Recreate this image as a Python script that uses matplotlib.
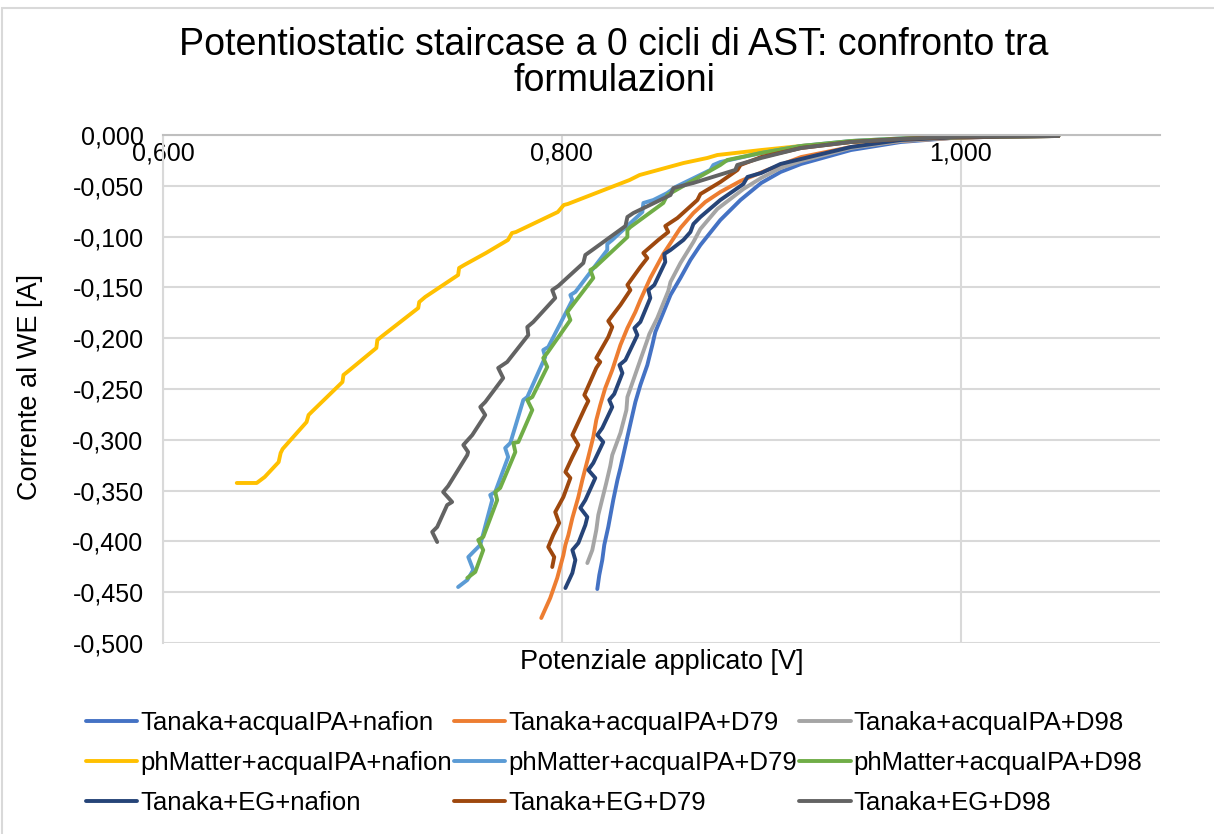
import matplotlib
matplotlib.use("Agg")
import matplotlib.pyplot as plt
from matplotlib.patches import Rectangle
from matplotlib.ticker import FuncFormatter, MultipleLocator

plt.rcParams["font.family"] = ["Liberation Sans", "DejaVu Sans"]

# series data: potential [V] and current [A]
tanaka_ipa_nafion_x = [0.8178, 0.8188, 0.8203, 0.8213, 0.8233, 0.8258, 0.8279, 0.8294, 0.8329, 0.8354,
                       0.8369, 0.8394, 0.8429, 0.8454, 0.8469, 0.8504, 0.8545, 0.8595, 0.8645, 0.8695,
                       0.8795, 0.8896, 0.900, 0.9097, 0.920, 0.945, 0.970, 0.995, 1.020, 1.049]
tanaka_ipa_nafion_y = [-0.4469, -0.4331, -0.4183, -0.4035, -0.3858, -0.3593, -0.3396, -0.3278, -0.2972, -0.2756,
                       -0.2628, -0.2461, -0.2264, -0.2067, -0.1939, -0.1772, -0.1575, -0.1407, -0.123, -0.1083,
                       -0.0837, -0.064, -0.0472, -0.0364, -0.0285, -0.0148, -0.0069, -0.003, -0.0015, -0.001]

tanaka_ipa_d79_x = [0.7897, 0.7942, 0.7977, 0.8008, 0.8018, 0.8033, 0.8053, 0.8083, 0.8103, 0.8133,
                    0.8158, 0.8173, 0.8193, 0.8218, 0.8253, 0.8294, 0.8329, 0.8369, 0.8394, 0.8444,
                    0.8509, 0.8595, 0.866, 0.872, 0.8795, 0.8896, 0.9031, 0.920, 0.945, 0.970,
                    0.995, 1.020, 1.049]
tanaka_ipa_d79_y = [-0.4754, -0.4557, -0.436, -0.4134, -0.4035, -0.3937, -0.377, -0.3563, -0.3396, -0.3169,
                    -0.2972, -0.2805, -0.2657, -0.249, -0.2313, -0.2067, -0.19, -0.1742, -0.1624, -0.1407,
                    -0.1171, -0.0915, -0.0768, -0.0659, -0.0561, -0.0453, -0.0344, -0.0217, -0.0118, -0.0059,
                    -0.003, -0.0015, -0.001]

tanaka_ipa_d98_x = [0.8128, 0.8153, 0.8173, 0.8183, 0.8193, 0.8223, 0.8243, 0.8253, 0.8294, 0.8324,
                    0.8329, 0.8359, 0.8399, 0.8429, 0.8439, 0.8479, 0.8534, 0.8545, 0.8595, 0.866,
                    0.8695, 0.878, 0.8911, 0.900, 0.9097, 0.920, 0.945, 0.970, 0.995, 1.020, 1.049]
tanaka_ipa_d98_y = [-0.4213, -0.4085, -0.3888, -0.374, -0.3661, -0.3425, -0.3258, -0.315, -0.2933, -0.2707,
                    -0.2579, -0.2411, -0.2185, -0.2018, -0.1959, -0.1801, -0.1535, -0.1447, -0.126, -0.1053,
                    -0.0925, -0.0728, -0.0531, -0.0423, -0.0325, -0.0256, -0.0128, -0.0059, -0.003, -0.0015, -0.001]

phm_ipa_nafion_x = [0.637, 0.647, 0.651, 0.658, 0.659, 0.660, 0.672, 0.673, 0.675, 0.690,
                    0.6905, 0.693, 0.707, 0.7075, 0.710, 0.728, 0.7285, 0.7315, 0.748, 0.7485,
                    0.751, 0.762, 0.773, 0.775, 0.777, 0.798, 0.801, 0.803, 0.834, 0.839,
                    0.861, 0.873, 0.878, 0.900, 0.920, 0.945, 0.970, 0.995, 1.020, 1.049]
phm_ipa_nafion_y = [-0.3425, -0.3425, -0.3366, -0.3219, -0.313, -0.309, -0.2825, -0.2756, -0.2717, -0.2431,
                    -0.2362, -0.2323, -0.2096, -0.2018, -0.1978, -0.1703, -0.1644, -0.1594, -0.1378, -0.1309,
                    -0.128, -0.1161, -0.1033, -0.0965, -0.0955, -0.0758, -0.0689, -0.0679, -0.0443, -0.0394,
                    -0.0276, -0.0226, -0.0197, -0.0148, -0.0108, -0.0069, -0.0039, -0.0025, -0.0015, -0.001]

phm_ipa_d79_x = [0.748, 0.7526, 0.7556, 0.7531, 0.7556, 0.7591, 0.7651, 0.7641, 0.7666, 0.7731,
                 0.7716, 0.7742, 0.7807, 0.7827, 0.7917, 0.7907, 0.7932, 0.8053, 0.8043, 0.8068,
                 0.8228, 0.8228, 0.8253, 0.8404, 0.8409, 0.8459, 0.8529, 0.857, 0.8745, 0.876,
                 0.8795, 0.900, 0.920, 0.945, 0.970, 0.995, 1.020, 1.049]
phm_ipa_d79_y = [-0.4449, -0.438, -0.4281, -0.4154, -0.4104, -0.4035, -0.3593, -0.3543, -0.3514, -0.3169,
                 -0.3081, -0.3031, -0.2608, -0.2579, -0.2185, -0.2116, -0.2087, -0.1624, -0.1575, -0.1545,
                 -0.1132, -0.1073, -0.1033, -0.0758, -0.0669, -0.064, -0.0571, -0.0512, -0.0344, -0.0295,
                 -0.0266, -0.0177, -0.0108, -0.0059, -0.0034, -0.002, -0.0013, -0.001]

phm_ipa_d98_x = [0.7526, 0.7566, 0.7606, 0.7581, 0.7606, 0.7676, 0.7666, 0.7691, 0.7767, 0.7757,
                 0.7782, 0.7852, 0.7827, 0.7852, 0.7927, 0.7907, 0.7927, 0.8043, 0.8028, 0.8043,
                 0.8158, 0.8143, 0.8168, 0.8329, 0.8329, 0.8344, 0.8509, 0.8529, 0.8795, 0.883,
                 0.900, 0.920, 0.945, 0.970, 0.995, 1.020, 1.049]
phm_ipa_d98_y = [-0.436, -0.4301, -0.4085, -0.3986, -0.3957, -0.3593, -0.3514, -0.3474, -0.312, -0.3031,
                 -0.3022, -0.2707, -0.2608, -0.2579, -0.2283, -0.2195, -0.2146, -0.1821, -0.1742, -0.1703,
                 -0.1407, -0.1329, -0.1299, -0.1004, -0.0935, -0.0906, -0.0669, -0.0591, -0.0295, -0.0246,
                 -0.0177, -0.0108, -0.0059, -0.0034, -0.002, -0.0013, -0.001]

tanaka_eg_nafion_x = [0.8018, 0.8053, 0.8068, 0.8053, 0.8083, 0.8118, 0.8128, 0.8093, 0.8118, 0.8168,
                      0.8133, 0.8158, 0.8208, 0.8178, 0.8203, 0.8253, 0.8238, 0.8263, 0.8304, 0.8289,
                      0.8319, 0.8379, 0.8364, 0.8394, 0.8444, 0.8434, 0.8464, 0.8519, 0.8514, 0.8545,
                      0.861, 0.8645, 0.866, 0.8695, 0.8795, 0.8911, 0.8931, 0.900, 0.9097, 0.920,
                      0.945, 0.970, 0.995, 1.020, 1.049]
tanaka_eg_nafion_y = [-0.4459, -0.4311, -0.4183, -0.4085, -0.4016, -0.3839, -0.376, -0.3671, -0.3593, -0.3376,
                      -0.3297, -0.3228, -0.3022, -0.2953, -0.2884, -0.2677, -0.2608, -0.2549, -0.2343, -0.2264,
                      -0.2215, -0.1969, -0.19, -0.184, -0.1604, -0.1526, -0.1476, -0.125, -0.1171, -0.1132,
                      -0.1033, -0.0955, -0.0876, -0.0807, -0.064, -0.0482, -0.0413, -0.0374, -0.0285, -0.0236,
                      -0.0118, -0.0049, -0.0025, -0.0015, -0.001]

tanaka_eg_d79_x = [0.7952, 0.7962, 0.7932, 0.7957, 0.7987, 0.7967, 0.8008, 0.8043, 0.8018, 0.8053,
                   0.8083, 0.8053, 0.8118, 0.8133, 0.8113, 0.8173, 0.8193, 0.8173, 0.8233, 0.8253,
                   0.8233, 0.8294, 0.8344, 0.8329, 0.8394, 0.8429, 0.8409, 0.8484, 0.8534, 0.8519,
                   0.858, 0.868, 0.8695, 0.8795, 0.8881, 0.8896, 0.900, 0.920, 0.945, 0.970,
                   0.995, 1.020, 1.049]
tanaka_eg_d79_y = [-0.4252, -0.4154, -0.4055, -0.3937, -0.3819, -0.3711, -0.3563, -0.3376, -0.3317, -0.3169,
                   -0.3051, -0.2953, -0.2677, -0.2618, -0.2559, -0.2293, -0.2234, -0.2195, -0.1988, -0.189,
                   -0.1831, -0.1673, -0.1526, -0.1476, -0.1299, -0.1211, -0.1161, -0.1033, -0.0955, -0.0896,
                   -0.0817, -0.064, -0.0581, -0.0463, -0.0344, -0.0295, -0.0217, -0.0128, -0.0069, -0.0039,
                   -0.002, -0.0013, -0.001]

tanaka_eg_d98_x = [0.7375, 0.735, 0.7375, 0.7425, 0.745, 0.7405, 0.743, 0.7526, 0.753, 0.7506,
                   0.7551, 0.7616, 0.7591, 0.7616, 0.7706, 0.7681, 0.7726, 0.7832, 0.7827, 0.7857,
                   0.7967, 0.7952, 0.7982, 0.8108, 0.8118, 0.8153, 0.8319, 0.8329, 0.8359, 0.8545,
                   0.856, 0.866, 0.887, 0.888, 0.900, 0.920, 0.945, 0.970, 0.995, 1.020, 1.049]
tanaka_eg_d98_y = [-0.4006, -0.3907, -0.3858, -0.3642, -0.3612, -0.3514, -0.3455, -0.315, -0.312, -0.3051,
                   -0.2953, -0.2756, -0.2677, -0.2628, -0.2392, -0.2293, -0.2234, -0.1969, -0.189, -0.184,
                   -0.1604, -0.1526, -0.1486, -0.126, -0.1181, -0.1132, -0.0896, -0.0807, -0.0768, -0.0591,
                   -0.0522, -0.0472, -0.0344, -0.0295, -0.0226, -0.0128, -0.0069, -0.0039, -0.002, -0.0013, -0.001]

labels = ["Tanaka+acquaIPA+nafion", "Tanaka+acquaIPA+D79", "Tanaka+acquaIPA+D98",
          "phMatter+acquaIPA+nafion", "phMatter+acquaIPA+D79", "phMatter+acquaIPA+D98",
          "Tanaka+EG+nafion", "Tanaka+EG+D79", "Tanaka+EG+D98"]
colors = ["#4472C4", "#ED7D31", "#A5A5A5", "#FFC000", "#5B9BD5", "#70AD47",
          "#264478", "#9E480E", "#636363"]
series = [(tanaka_ipa_nafion_x, tanaka_ipa_nafion_y), (tanaka_ipa_d79_x, tanaka_ipa_d79_y),
          (tanaka_ipa_d98_x, tanaka_ipa_d98_y), (phm_ipa_nafion_x, phm_ipa_nafion_y),
          (phm_ipa_d79_x, phm_ipa_d79_y), (phm_ipa_d98_x, phm_ipa_d98_y),
          (tanaka_eg_nafion_x, tanaka_eg_nafion_y), (tanaka_eg_d79_x, tanaka_eg_d79_y),
          (tanaka_eg_d98_x, tanaka_eg_d98_y)]

fig = plt.figure(figsize=(12.14, 8.34), dpi=100)
ax = fig.add_axes([163/1214, 1-643/834, (1160-163)/1214, (643-135)/834])

# chart area border
fig.patches.append(Rectangle((2/1214, -0.01), 1.05, 1-8/834+0.01, transform=fig.transFigure,
                             fill=False, edgecolor="#d9d9d9", linewidth=1.5))

handles = []
for (xs, ys), lab, c in zip(series, labels, colors):
    h, = ax.plot(xs, ys, color=c, lw=2.8, solid_joinstyle="round", solid_capstyle="round", label=lab)
    handles.append(h)

ax.set_xlim(0.6, 1.1)
ax.set_ylim(-0.5, 0.0)
ax.xaxis.set_major_locator(MultipleLocator(0.2))
ax.yaxis.set_major_locator(MultipleLocator(0.05))
fmt = FuncFormatter(lambda v, p: f"{v:.3f}".replace(".", ",").replace("-0,000", "0,000"))
ax.xaxis.set_major_formatter(fmt)
ax.yaxis.set_major_formatter(fmt)

ax.grid(True, color="#d9d9d9", linewidth=1.5)
ax.set_axisbelow(True)
ax.spines["bottom"].set_position(("data", 0))
ax.spines["bottom"].set_color("#bfbfbf")
ax.spines["bottom"].set_linewidth(1.5)
for s in ["top", "right"]:
    ax.spines[s].set_visible(False)
ax.spines["left"].set_color("#d9d9d9")
ax.spines["left"].set_linewidth(1.5)
ax.tick_params(axis="both", length=0, labelsize=18, colors="black")
ax.tick_params(axis="x", pad=5)
ax.tick_params(axis="y", pad=14)

fig.text(614/1214, 1-63/834, "Potentiostatic staircase a 0 cicli di AST: confronto tra\nformulazioni",
         ha="center", va="center", fontsize=27, linespacing=0.97)
ax.text(0.5, -0.012, "Potenziale applicato [V]", transform=ax.transAxes,
        ha="center", va="top", fontsize=19.5)
fig.text(30/1214, 1-387/834, "Corrente al WE [A]", rotation=90, ha="center", va="center", fontsize=19.5)

order = [0, 3, 6, 1, 4, 7, 2, 5, 8]
fig.legend([handles[i] for i in order], [labels[i] for i in order], ncol=3,
           loc="center", bbox_to_anchor=(614/1214, 1-763/834), frameon=False,
           fontsize=18.5, handlelength=2.0, handletextpad=0.1, columnspacing=0.1,
           labelspacing=0.62)

fig.savefig("out.png", dpi=100)
